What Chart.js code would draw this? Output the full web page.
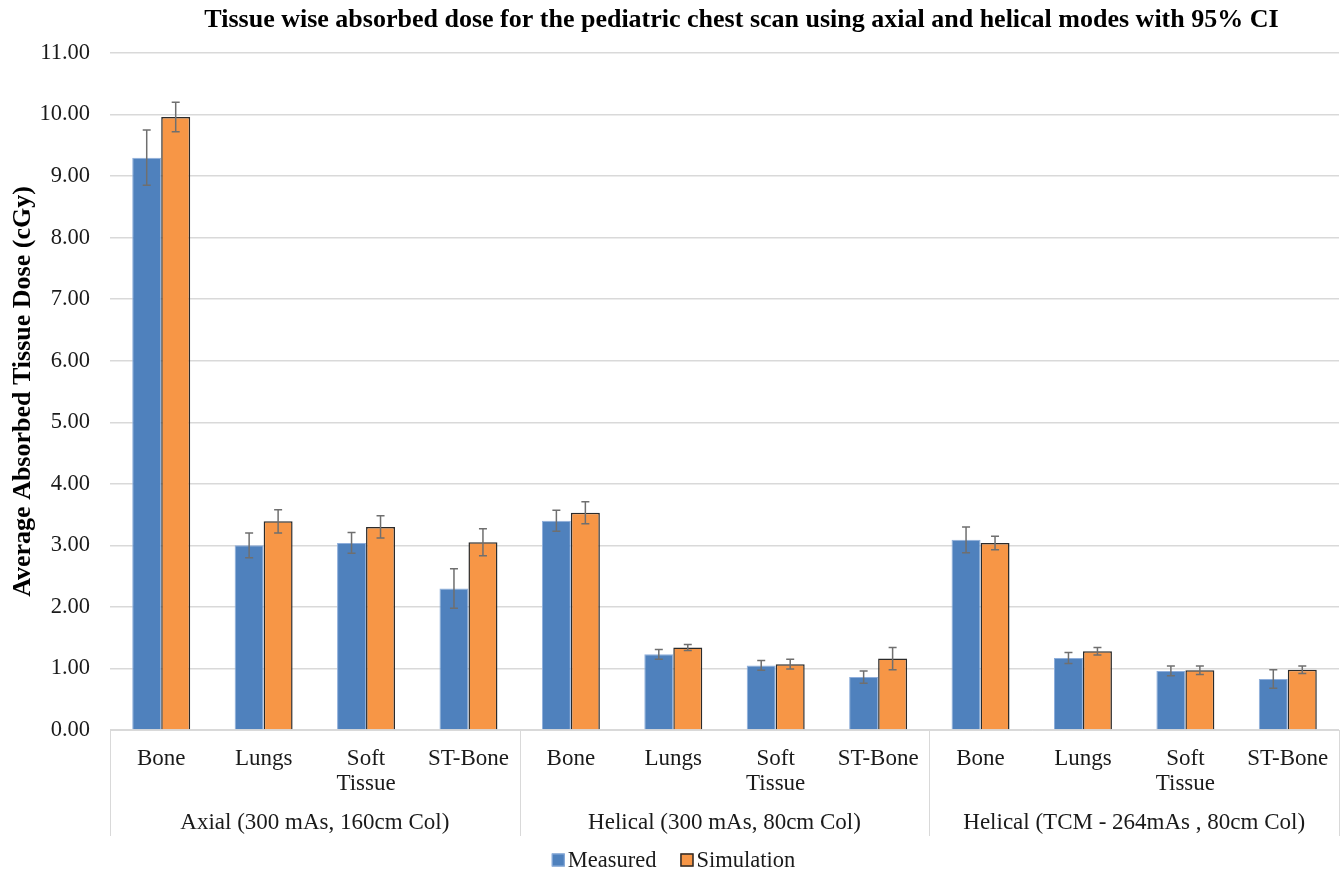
<!DOCTYPE html>
<html>
<head>
<meta charset="utf-8">
<script src="https://cdn.jsdelivr.net/npm/chart.js@4.4.1/dist/chart.umd.min.js"></script>
<style>
  html, body { margin: 0; padding: 0; background: #ffffff; }
  #wrap { width: 1341px; height: 873px; position: relative; }
</style>
</head>
<body>
<div id="wrap"><canvas id="chart"></canvas></div>
<script>
// Tissue categories (repeated for each scan mode)
const tissues = ['Bone', 'Lungs', ['Soft', 'Tissue'], 'ST-Bone',
                 'Bone', 'Lungs', ['Soft', 'Tissue'], 'ST-Bone',
                 'Bone', 'Lungs', ['Soft', 'Tissue'], 'ST-Bone'];

// Scan modes, each covering four tissue categories
const modes = ['Axial (300 mAs, 160cm Col)',
               'Helical (300 mAs, 80cm Col)',
               'Helical (TCM - 264mAs , 80cm Col)'];
const tissuesPerMode = 4;

// Average absorbed tissue dose (cGy)
const measured      = [9.30, 3.00, 3.04, 2.30, 3.40, 1.23, 1.05, 0.86, 3.09, 1.17, 0.96, 0.83];
const simulation    = [9.96, 3.39, 3.30, 3.05, 3.53, 1.34, 1.07, 1.16, 3.04, 1.28, 0.97, 0.98];

// 95% confidence interval half-widths (cGy)
const measuredErr   = [0.45, 0.20, 0.17, 0.32, 0.17, 0.08, 0.08, 0.10, 0.21, 0.09, 0.08, 0.15];
const simulationErr = [0.24, 0.19, 0.18, 0.22, 0.18, 0.05, 0.08, 0.18, 0.11, 0.06, 0.07, 0.06];

// Y axis range and step
const yMin = 0, yMax = 11, yStep = 1;

const titleText = 'Tissue wise absorbed dose for the pediatric chest scan using axial and helical modes with 95% CI';
const yTitleText = 'Average Absorbed Tissue Dose (cGy)';

const SERIF = '"Liberation Serif", "Times New Roman", serif';
const GRID = '#d9d9d9';
const TEXT = '#1a1a1a';

// Error bars from the CI arrays, placed on each bar through the y scale
const errorBars = {
  id: 'errorBars',
  afterDatasetsDraw(chart) {
    const ctx = chart.ctx;
    const y = chart.scales.y;
    ctx.save();
    ctx.strokeStyle = '#6f6f6f';
    ctx.lineWidth = 1.5;
    chart.data.datasets.forEach((ds, di) => {
      const meta = chart.getDatasetMeta(di);
      meta.data.forEach((bar, i) => {
        const v = ds.data[i], e = ds.errors[i];
        const x = bar.x;
        const yt = y.getPixelForValue(v + e);
        const yb = y.getPixelForValue(v - e);
        const cap = 4;
        ctx.beginPath();
        ctx.moveTo(x, yt); ctx.lineTo(x, yb);
        ctx.moveTo(x - cap, yt); ctx.lineTo(x + cap, yt);
        ctx.moveTo(x - cap, yb); ctx.lineTo(x + cap, yb);
        ctx.stroke();
      });
    });
    ctx.restore();
  }
};

// Second row of category labels (scan modes) with separators between them
const modeAxis = {
  id: 'modeAxis',
  afterDraw(chart) {
    const ctx = chart.ctx;
    const x = chart.scales.x;
    const top = x.top;
    const bottom = x.bottom;
    ctx.save();
    ctx.strokeStyle = GRID;
    ctx.lineWidth = 1;
    for (let g = 0; g <= modes.length; g++) {
      const px = Math.round(x.getPixelForValue(g * tissuesPerMode - 0.5)) + 0.5;
      ctx.beginPath();
      ctx.moveTo(px, top);
      ctx.lineTo(px, bottom);
      ctx.stroke();
    }
    ctx.fillStyle = TEXT;
    ctx.font = '23px ' + SERIF;
    ctx.textAlign = 'center';
    ctx.textBaseline = 'middle';
    modes.forEach((m, g) => {
      const cx = x.getPixelForValue(g * tissuesPerMode + (tissuesPerMode - 1) / 2);
      ctx.fillText(m, cx, bottom - 13);
    });
    ctx.restore();
  }
};

// Chart title over the plot area
const chartTitle = {
  id: 'chartTitle',
  afterDraw(chart) {
    const ctx = chart.ctx;
    const a = chart.chartArea;
    ctx.save();
    ctx.fillStyle = '#000000';
    ctx.font = 'bold 26px ' + SERIF;
    ctx.textAlign = 'center';
    ctx.textBaseline = 'middle';
    ctx.fillText(titleText, (a.left + a.right) / 2 + 17, 20);
    ctx.restore();
  }
};

// Legend row below the axis, built from the datasets
const legendRow = {
  id: 'legendRow',
  afterDraw(chart) {
    const ctx = chart.ctx;
    const box = 13, gap = 3, spacing = 24;
    ctx.save();
    ctx.font = '22.5px ' + SERIF;
    ctx.textBaseline = 'middle';
    ctx.textAlign = 'left';
    const items = chart.data.datasets.map(ds => ({ ds, w: box + gap + ctx.measureText(ds.label).width }));
    const total = items.reduce((s, it) => s + it.w, 0) + spacing * (items.length - 1);
    let x = chart.width / 2 - total / 2 + 3;
    const cy = chart.scales.x.bottom + 24;
    items.forEach(({ ds, w }) => {
      ctx.fillStyle = ds.backgroundColor;
      ctx.fillRect(x, cy - box / 2, box, box);
      ctx.strokeStyle = ds.borderColor;
      ctx.lineWidth = ds.borderWidth;
      ctx.strokeRect(x + 0.5, cy - box / 2 + 0.5, box - 1, box - 1);
      ctx.fillStyle = TEXT;
      ctx.fillText(ds.label, x + box + gap, cy + 1);
      x += w + spacing;
    });
    ctx.restore();
  }
};

new Chart(document.getElementById('chart'), {
  type: 'bar',
  data: {
    labels: tissues,
    datasets: [
      {
        label: 'Measured',
        data: measured,
        errors: measuredErr,
        backgroundColor: '#4f81bd',
        borderColor: '#8eaedb',
        borderWidth: 1,
        barPercentage: 1.0,
        categoryPercentage: 0.566
      },
      {
        label: 'Simulation',
        data: simulation,
        errors: simulationErr,
        backgroundColor: '#f79646',
        borderColor: '#2b2b2b',
        borderWidth: 1.5,
        barPercentage: 1.0,
        categoryPercentage: 0.566
      }
    ]
  },
  options: {
    responsive: true,
    maintainAspectRatio: false,
    animation: false,
    layout: { padding: { top: 53, right: 2, left: 0, bottom: 37 } },
    plugins: {
      title: { display: false },
      tooltip: { enabled: false },
      legend: { display: false }
    },
    scales: {
      x: {
        grid: { display: false, drawTicks: true, tickLength: 8 },
        border: { display: true, color: GRID, width: 1 },
        ticks: {
          color: TEXT,
          font: { family: SERIF, size: 23, lineHeight: 1.09 },
          padding: 8,
          maxRotation: 0,
          autoSkip: false
        },
        afterFit(scale) { scale.height = 106; }
      },
      y: {
        min: yMin,
        max: yMax,
        ticks: {
          stepSize: yStep,
          color: TEXT,
          padding: 20,
          font: { family: SERIF, size: 22.5 },
          callback: v => Number(v).toFixed(2)
        },
        grid: { color: GRID, lineWidth: 1.5, drawTicks: false },
        border: { display: false },
        title: {
          display: true,
          text: yTitleText,
          color: '#000000',
          font: { family: SERIF, size: 26, weight: 'bold' },
          padding: { top: 8, bottom: 0 }
        },
        afterFit(scale) { scale.width = 110; }
      }
    }
  },
  plugins: [errorBars, modeAxis, chartTitle, legendRow]
});
</script>
</body>
</html>
